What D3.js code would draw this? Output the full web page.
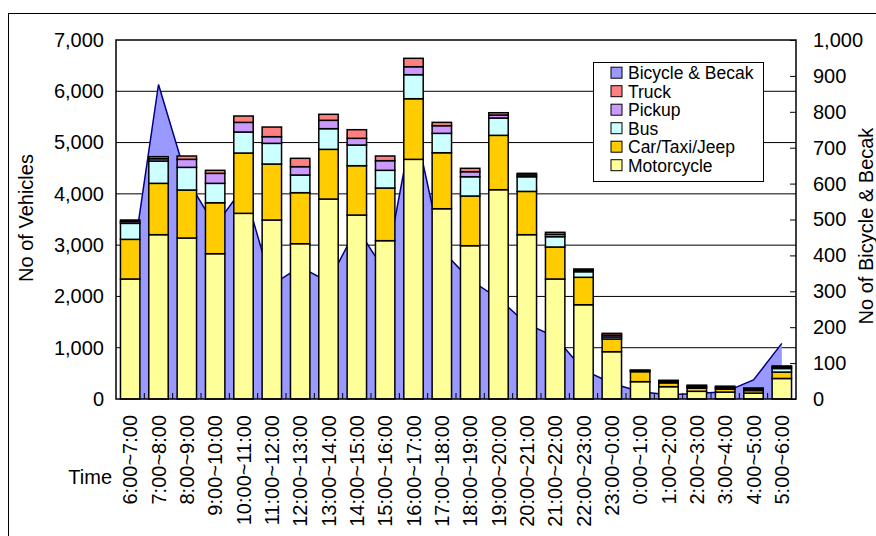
<!DOCTYPE html>
<html>
<head>
<meta charset="utf-8">
<script src="https://cdn.jsdelivr.net/npm/d3@7"></script>
<style>
  html, body { margin: 0; padding: 0; background: #fff; }
  svg { display: block; font-family: "Liberation Sans", Arial, sans-serif; }
</style>
</head>
<body>
<svg id="chart" width="876" height="536"></svg>
<script>
// Hourly traffic counts by vehicle type
const categories = ["6:00~7:00","7:00~8:00","8:00~9:00","9:00~10:00","10:00~11:00","11:00~12:00",
  "12:00~13:00","13:00~14:00","14:00~15:00","15:00~16:00","16:00~17:00","17:00~18:00",
  "18:00~19:00","19:00~20:00","20:00~21:00","21:00~22:00","22:00~23:00","23:00~0:00",
  "0:00~1:00","1:00~2:00","2:00~3:00","3:00~4:00","4:00~5:00","5:00~6:00"];

const motorcycle = [2340,3204,3139,2833,3620,3490,3028,3899,3587,3087,4673,3710,2989,4081,3204,2340,1838,922,338,240,150,135,115,400];
const car        = [773,1001,936,994,1176,1092,995,969,962,1027,1182,1092,969,1060,844,624,535,248,195,75,60,55,50,125];
const bus        = [312,435,442,378,410,403,344,403,403,345,468,378,376,338,286,201,109,40,12,20,20,20,20,70];
const pickup     = [35,45,156,195,188,130,163,163,131,188,156,149,98,58,35,45,28,35,10,15,20,20,15,30];
const truck      = [30,40,65,59,124,188,163,117,168,91,164,65,66,45,31,40,25,35,10,15,20,20,15,20];
const bicycle    = [335,876,613,482,590,318,368,326,477,355,778,415,332,280,209,173,81,44,20,12,15,20,53,155];

const leftTicks  = [0,1000,2000,3000,4000,5000,6000,7000];
const rightTicks = [0,100,200,300,400,500,600,700,800,900,1000];

const stackKeys   = ["Motorcycle","Car/Taxi/Jeep","Bus","Pickup","Truck"];
const stackSeries = [motorcycle, car, bus, pickup, truck];
const colors = {
  "Motorcycle": "#FFFF99",
  "Car/Taxi/Jeep": "#FFCC00",
  "Bus": "#CCFFFF",
  "Pickup": "#CC99FF",
  "Truck": "#FF8080",
  "Bicycle & Becak": "#9999FF"
};
const legendOrder = ["Bicycle & Becak","Truck","Pickup","Bus","Car/Taxi/Jeep","Motorcycle"];

const plot = { left: 116, right: 796, top: 40, bottom: 399 };

const svg = d3.select("#chart");

// outer chart frame
svg.append("rect")
  .attr("x", 8.5).attr("y", 13.5)
  .attr("width", 1000).attr("height", 1000)
  .attr("fill", "none").attr("stroke", "#000").attr("stroke-width", 1);

const x = d3.scaleBand()
  .domain(categories)
  .range([plot.left, plot.right])
  .paddingInner(0.315)
  .paddingOuter(0.1575);

const yL = d3.scaleLinear().domain([0, 7000]).range([plot.bottom, plot.top]);
const yR = d3.scaleLinear().domain([0, 1000]).range([plot.bottom, plot.top]);

// horizontal gridlines
svg.append("g")
  .selectAll("line")
  .data(leftTicks.slice(1, -1))
  .join("line")
  .attr("x1", plot.left).attr("x2", plot.right)
  .attr("y1", d => yL(d)).attr("y2", d => yL(d))
  .attr("stroke", "#000").attr("stroke-width", 1);

// bicycle & becak area on the secondary axis
const area = d3.area()
  .x((d, i) => x(categories[i]) + x.bandwidth() / 2)
  .y0(yR(0))
  .y1(d => yR(d));
const line = d3.line()
  .x((d, i) => x(categories[i]) + x.bandwidth() / 2)
  .y(d => yR(d));

svg.append("path")
  .datum(bicycle)
  .attr("d", area)
  .attr("fill", colors["Bicycle & Becak"]);
svg.append("path")
  .datum(bicycle)
  .attr("d", line)
  .attr("fill", "none")
  .attr("stroke", "#000080")
  .attr("stroke-width", 1.5);

// stacked vehicle bars
const rows = categories.map((c, i) => {
  const r = { cat: c };
  stackKeys.forEach((k, j) => { r[k] = stackSeries[j][i]; });
  return r;
});
const stacked = d3.stack().keys(stackKeys)(rows);

svg.append("g")
  .selectAll("g")
  .data(stacked)
  .join("g")
  .attr("fill", d => colors[d.key])
  .selectAll("rect")
  .data(d => d)
  .join("rect")
  .attr("x", d => x(d.data.cat))
  .attr("width", x.bandwidth())
  .attr("y", d => yL(d[1]))
  .attr("height", d => yL(d[0]) - yL(d[1]))
  .attr("stroke", "#000")
  .attr("stroke-width", 1.5);

// category boundary ticks along the bottom
const step = x.step();
svg.append("g")
  .selectAll("line")
  .data(categories.slice(1))
  .join("line")
  .attr("x1", d => x(d) - step * x.paddingOuter())
  .attr("x2", d => x(d) - step * x.paddingOuter())
  .attr("y1", plot.bottom).attr("y2", plot.bottom - 6)
  .attr("stroke", "#000").attr("stroke-width", 1);

// plot frame
svg.append("rect")
  .attr("x", plot.left).attr("y", plot.top)
  .attr("width", plot.right - plot.left)
  .attr("height", plot.bottom - plot.top)
  .attr("fill", "none").attr("stroke", "#000").attr("stroke-width", 1.5);

const fmt = d3.format(",");

// left axis
const gL = svg.append("g")
  .attr("transform", `translate(${plot.left},0)`)
  .call(d3.axisLeft(yL).tickValues(leftTicks).tickSize(0).tickPadding(12).tickFormat(fmt));
gL.select(".domain").remove();
gL.selectAll("text").attr("font-size", 20).attr("font-family", "Liberation Sans, Arial, sans-serif").attr("fill", "#000");

// right axis, ticks pointing inward
const gR = svg.append("g")
  .attr("transform", `translate(${plot.right},0)`)
  .call(d3.axisRight(yR).tickValues(rightTicks).tickSizeInner(-6).tickSizeOuter(0).tickPadding(17).tickFormat(fmt));
gR.select(".domain").remove();
gR.selectAll("line").attr("stroke", "#000");
gR.selectAll("text").attr("x", 17).attr("font-size", 20).attr("font-family", "Liberation Sans, Arial, sans-serif").attr("fill", "#000");

// bottom axis with vertical labels
const gB = svg.append("g")
  .attr("transform", `translate(0,${plot.bottom})`)
  .call(d3.axisBottom(x).tickSize(0));
gB.select(".domain").remove();
gB.selectAll("text")
  .attr("y", 0).attr("x", -16).attr("dy", "0.35em")
  .attr("transform", "rotate(-90)")
  .style("text-anchor", "end")
  .attr("font-size", 20).attr("font-family", "Liberation Sans, Arial, sans-serif").attr("fill", "#000");

// axis titles
svg.append("text")
  .attr("transform", "translate(33,218) rotate(-90)")
  .attr("text-anchor", "middle")
  .attr("font-size", 20)
  .text("No of Vehicles");

svg.append("text")
  .attr("transform", "translate(873,226) rotate(-90)")
  .attr("text-anchor", "middle")
  .attr("font-size", 20)
  .text("No of Bicycle & Becak");

svg.append("text")
  .attr("x", 112).attr("y", 484)
  .attr("text-anchor", "end")
  .attr("font-size", 20)
  .text("Time");

// legend
const lg = svg.append("g");
lg.append("rect")
  .attr("x", 593.5).attr("y", 62.5)
  .attr("width", 170).attr("height", 119)
  .attr("fill", "#fff").attr("stroke", "#000").attr("stroke-width", 1);
const items = lg.selectAll("g.item")
  .data(legendOrder)
  .join("g")
  .attr("class", "item")
  .attr("transform", (d, i) => `translate(0,${72.7 + i * 18.5})`);
items.append("rect")
  .attr("x", 611).attr("y", -5.5)
  .attr("width", 11).attr("height", 11)
  .attr("fill", d => colors[d])
  .attr("stroke", "#000").attr("stroke-width", 1);
items.append("text")
  .attr("x", 628).attr("dy", "0.36em")
  .attr("font-size", 17.5)
  .text(d => d);
</script>
</body>
</html>
